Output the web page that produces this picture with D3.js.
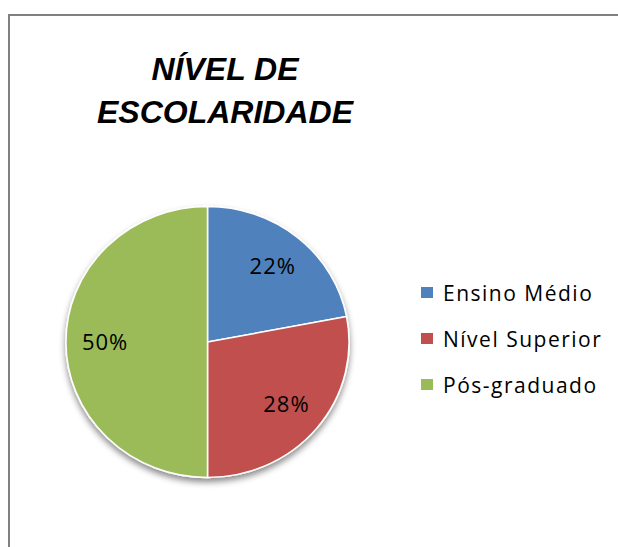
<!DOCTYPE html>
<html>
<head>
<meta charset="utf-8">
<script src="https://cdn.jsdelivr.net/npm/d3@7"></script>
<style>
  body { margin: 0; background: #fff; overflow: hidden; }
  svg { display: block; }
</style>
</head>
<body>
<div id="chart"></div>
<script>
// chart data
var categories = ["Ensino Médio", "Nível Superior", "Pós-graduado"];
var shares = [22, 28, 50];
var sliceColors = ["#4F81BD", "#C0504D", "#9BBB59"];
var titleLines = ["NÍVEL DE", "ESCOLARIDADE"];

var width = 618, height = 547;

var svg = d3.select("#chart").append("svg")
    .attr("width", width)
    .attr("height", height);

//shadow under pie
var defs = svg.append("defs");
var shadow = defs.append("filter").attr("id", "pieShadow")
    .attr("x", "-20%").attr("y", "-20%").attr("width", "140%").attr("height", "140%");
shadow.append("feDropShadow")
    .attr("dx", 0).attr("dy", 4).attr("stdDeviation", 3)
    .attr("flood-color", "#000").attr("flood-opacity", 0.45);

//outer border, only top and left show in the crop
svg.append("path")
    .attr("d", "M" + (width + 10) + ",15H9V" + (height + 10))
    .attr("fill", "none")
    .attr("stroke", "#808080")
    .attr("stroke-width", 2);

//title
svg.append("text")
    .attr("text-anchor", "middle")
    .style("font-family", "'Liberation Sans', Arial, sans-serif")
    .style("font-weight", "bold")
    .style("font-style", "italic")
    .style("font-size", "32px")
    .selectAll("tspan")
    .data(titleLines)
    .join("tspan")
      .attr("x", 225)
      .attr("y", function (d, i) { return 80 + i * 43; })
      .text(function (d) { return d; });

//pie, slightly wider than tall like the original
var cx = 207.5, cy = 342, r = 135.5, stretchX = 1.045;

var pie = d3.pie().sort(null).value(function (d) { return d; });
var arcs = pie(shares);
var arc = d3.arc().innerRadius(0).outerRadius(r);
var labelArc = d3.arc().innerRadius(98).outerRadius(98);

var pieG = svg.append("g")
    .attr("transform", "translate(" + cx + "," + cy + ")");

var sliceG = pieG.append("g")
    .attr("transform", "scale(" + stretchX + ",1)")
    .attr("filter", "url(#pieShadow)");

sliceG.selectAll("path")
    .data(arcs)
    .join("path")
      .attr("d", arc)
      .attr("fill", function (d, i) { return sliceColors[i]; })
      .attr("stroke", "#fff")
      .attr("stroke-width", 1.5)
      .attr("stroke-linejoin", "round");

pieG.selectAll("text.pct")
    .data(arcs)
    .join("text")
      .attr("class", "pct")
      .attr("x", function (d) { return labelArc.centroid(d)[0] * stretchX; })
      .attr("y", function (d) { return labelArc.centroid(d)[1]; })
      .attr("dy", "0.36em")
      .attr("text-anchor", "middle")
      .style("font-family", "'Open Sans', sans-serif")
      .style("font-size", "22px")
      .style("letter-spacing", "1px")
      .attr("fill", "#000")
      .text(function (d) { return d.data + "%"; });

//legend
var legend = svg.append("g")
    .attr("transform", "translate(421,293)");

var legendItem = legend.selectAll("g")
    .data(categories)
    .join("g")
      .attr("transform", function (d, i) { return "translate(0," + (i * 46) + ")"; });

legendItem.append("rect")
    .attr("x", 0).attr("y", -6)
    .attr("width", 12).attr("height", 11)
    .attr("fill", function (d, i) { return sliceColors[i]; });

legendItem.append("text")
    .attr("x", 22)
    .attr("y", 0)
    .attr("dy", "0.36em")
    .style("font-family", "'Open Sans', sans-serif")
    .style("font-size", "21px")
    .style("letter-spacing", "1.5px")
    .attr("fill", "#000")
    .text(function (d) { return d; });
</script>
</body>
</html>
